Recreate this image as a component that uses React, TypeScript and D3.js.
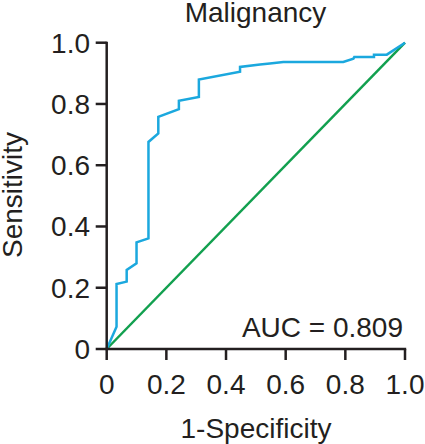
import React from "react";
import * as d3 from "d3";

const fpr = [0, 0.033, 0.033, 0.067, 0.067, 0.10, 0.10, 0.14, 0.14, 0.173, 0.173, 0.242, 0.242, 0.309, 0.309, 0.447, 0.447, 0.514, 0.547, 0.592, 0.793, 0.827, 0.83, 0.896, 0.896, 0.939, 1.0];
const tpr = [0, 0.073, 0.212, 0.22, 0.258, 0.28, 0.348, 0.361, 0.676, 0.704, 0.758, 0.783, 0.81, 0.823, 0.88, 0.905, 0.921, 0.929, 0.932, 0.937, 0.937, 0.948, 0.953, 0.953, 0.961, 0.961, 1.0];
const refLine = [0, 1];
const ticks = [0, 0.2, 0.4, 0.6, 0.8, 1.0];
const tickLabels = ["0", "0.2", "0.4", "0.6", "0.8", "1.0"];
const title = "Malignancy";
const xTitle = "1-Specificity";
const yTitle = "Sensitivity";
const aucText = "AUC = 0.809";

export default function App() {
  const W = 425, H = 444;
  const x = d3.scaleLinear().domain([0, 1]).range([106.7, 405]);
  const y = d3.scaleLinear().domain([0, 1]).range([349, 42.7]);
  const pts: [number, number][] = fpr.map((f, i) => [f, tpr[i]]);
  const line = d3.line<[number, number]>().x(d => x(d[0])).y(d => y(d[1]));
  const refPts: [number, number][] = refLine.map(v => [v, v]);
  const ink = "#231f20";
  const font = "'Liberation Sans', Arial, sans-serif";
  return (
    <svg width={W} height={H} style={{ position: "absolute", left: 0, top: 0 }} fontFamily={font}>
      <rect width={W} height={H} fill="#fff" />
      <text x={255.5} y={22} fontSize={28} textAnchor="middle" fill={ink}>{title}</text>
      <path d={line(refPts) || ""} fill="none" stroke="#12a04f" strokeWidth={2.5} />
      <path d={line(pts) || ""} fill="none" stroke="#1ba8de" strokeWidth={2.5} strokeLinejoin="miter" />
      <line x1={x(0)} x2={x(0)} y1={y(1) - 1} y2={y(0)} stroke={ink} strokeWidth={2.5} />
      <line x1={x(0) - 1.2} x2={x(1) + 1.2} y1={y(0)} y2={y(0)} stroke={ink} strokeWidth={2.5} />
      {ticks.map((t, i) => (
        <g key={"y" + i}>
          <line x1={x(0) - 11} x2={x(0)} y1={y(t)} y2={y(t)} stroke={ink} strokeWidth={2.5} />
          <text x={90} y={y(t)} dy="0.35em" fontSize={28} textAnchor="end" fill={ink}>{tickLabels[i]}</text>
        </g>
      ))}
      {ticks.map((t, i) => (
        <g key={"x" + i}>
          <line x1={x(t)} x2={x(t)} y1={y(0)} y2={y(0) + 11} stroke={ink} strokeWidth={2.5} />
          <text x={x(t)} y={394} fontSize={28} textAnchor="middle" fill={ink}>{tickLabels[i]}</text>
        </g>
      ))}
      <text x={256} y={438} fontSize={28} textAnchor="middle" fill={ink}>{xTitle}</text>
      <text transform={`translate(22,195) rotate(-90)`} fontSize={28} textAnchor="middle" fill={ink}>{yTitle}</text>
      <text x={403} y={337} fontSize={28} textAnchor="end" fill={ink}>{aucText}</text>
    </svg>
  );
}
